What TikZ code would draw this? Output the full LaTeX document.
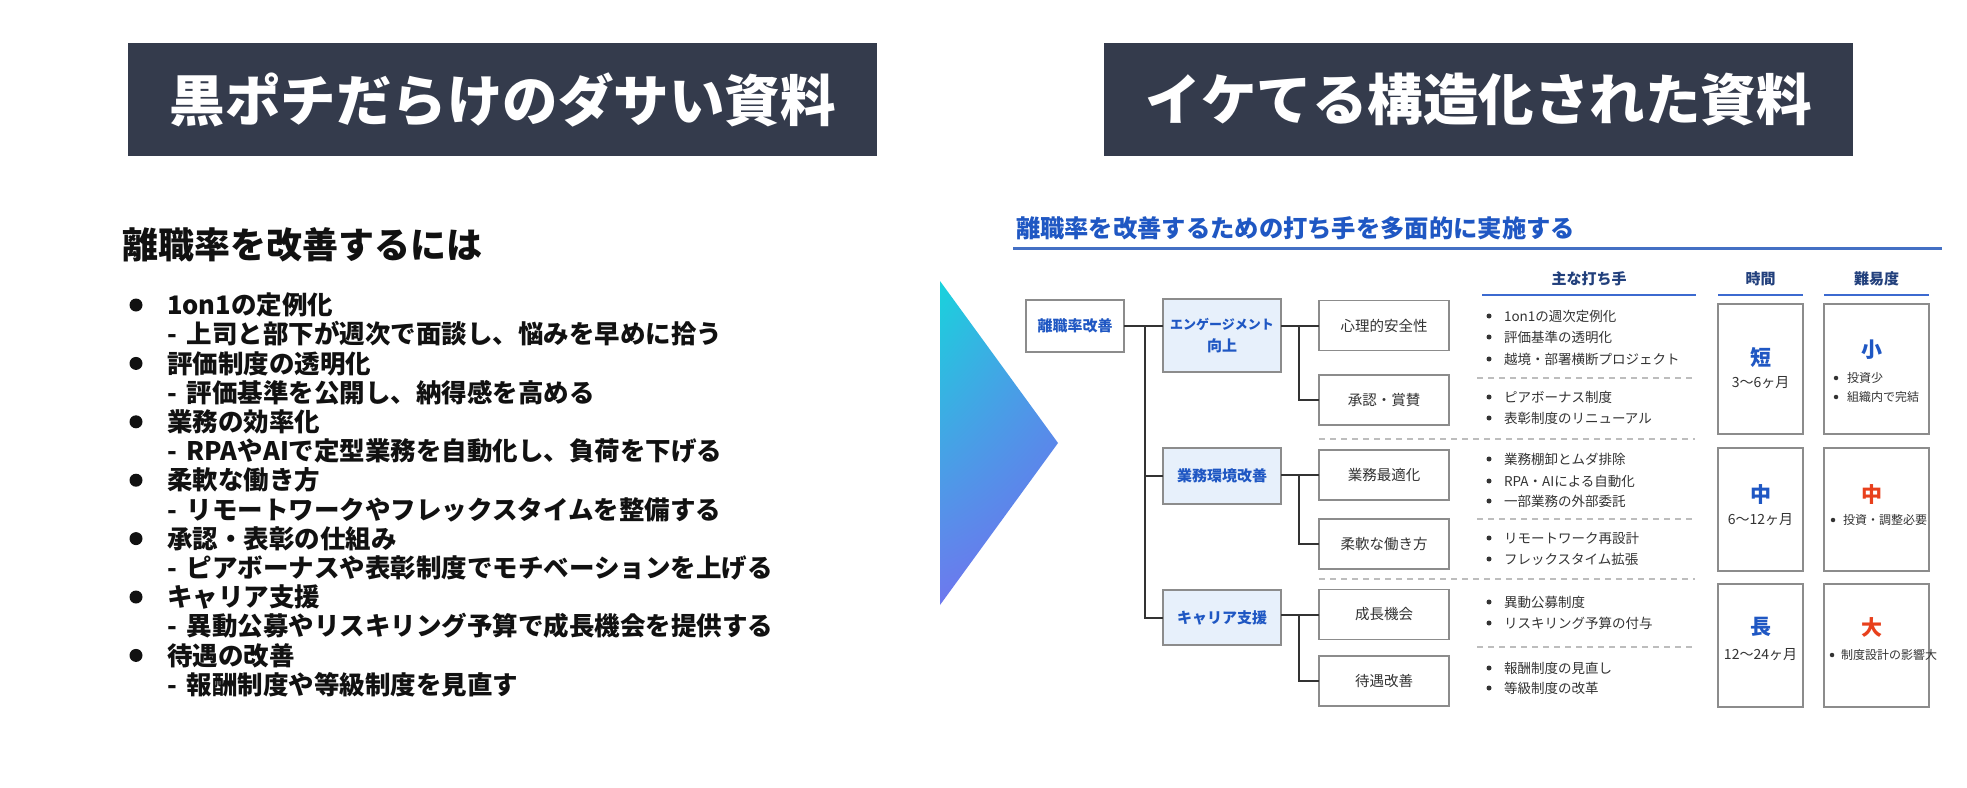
\documentclass[tikz,border=0pt]{standalone}
\usepackage{fontspec}
\newfontfamily\jp{Noto Sans CJK JP}
\usetikzlibrary{calc,shadings}
\definecolor{hdr}{HTML}{343B4C}
\definecolor{ink}{HTML}{111111}
\definecolor{tblue}{HTML}{1F57C3}
\definecolor{lblue}{HTML}{4470C4}
\definecolor{hblue}{HTML}{3C6AD0}
\definecolor{hnavy}{HTML}{22407C}
\definecolor{catfill}{HTML}{E7F0FB}
\definecolor{bord}{HTML}{8C8C8C}
\definecolor{dgray}{HTML}{333333}
\definecolor{dash}{HTML}{BDBDBD}
\definecolor{kred}{HTML}{E8401C}
\definecolor{cyanA}{HTML}{18D3DC}
\definecolor{cyanB}{HTML}{44A6E6}
\definecolor{purA}{HTML}{6E78EE}
\definecolor{purB}{HTML}{7268EE}
\begin{document}
\begin{tikzpicture}[x=1pt,y=-1pt,
  every node/.style={inner sep=0pt,outer sep=0pt},
  hbox/.style={fill=hdr,minimum width=749pt,minimum height=113pt,text=white,
    font=\jp\bfseries\fontsize{55.5}{55.5}\selectfont},
  ltitle/.style={anchor=base west,text=ink,font=\jp\bfseries\fontsize{36}{36}\selectfont},
  litem/.style={anchor=base west,text=ink,font=\jp\bfseries\fontsize{25.5}{25.5}\selectfont},
  lbul/.style={circle,fill=ink,minimum size=13pt},
  rtitle/.style={anchor=base west,text=tblue,font=\jp\bfseries\fontsize{24.3}{24.3}\selectfont},
  colhead/.style={text=hnavy,font=\jp\bfseries\fontsize{15}{15}\selectfont},
  hline/.style={draw=hblue,line width=2.5pt},
  rootbox/.style={draw=bord,line width=1.5pt,fill=white,minimum width=98pt,minimum height=52pt,
    text=tblue,font=\jp\bfseries\fontsize{15}{15}\selectfont},
  catbox/.style={draw=bord,line width=1.5pt,fill=catfill,minimum width=118pt,
    text=tblue,align=center,font=\jp\bfseries\fontsize{15}{22}\selectfont},
  leafbox/.style={draw=bord,line width=1.5pt,fill=white,minimum width=130pt,minimum height=50pt,
    text=dgray,font=\jp\fontsize{14.5}{14.5}\selectfont},
  conn/.style={draw=dgray,line width=2pt},
  dsep/.style={draw=dash,line width=1.5pt,dash pattern=on 6pt off 5pt},
  ritem/.style={anchor=base west,text=dgray,font=\jp\fontsize{13.5}{13.5}\selectfont},
  rbul/.style={circle,fill=dgray,minimum size=5pt},
  cbox/.style={draw=bord,line width=1.5pt,fill=white},
  big/.style={font=\jp\bfseries\fontsize{21}{21}\selectfont},
  period/.style={text=dgray,font=\jp\fontsize{14}{14}\selectfont},
  ditem/.style={anchor=base west,text=dgray,font=\jp\fontsize{12}{12}\selectfont},
  dbul/.style={circle,fill=dgray,minimum size=4.5pt}
]
\useasboundingbox (0,0) rectangle (1967,787);
\fill[white] (0,0) rectangle (1967,787);

% ---------- headers ----------
\node[hbox] (hl) at (502.5,99.5) {黒ポチだらけのダサい資料};
\node[hbox] (hr) at (1478.5,99.5) {イケてる構造化された資料};

% ---------- left list ----------
\node[ltitle] (lt) at (122,258.7) {離職率を改善するには};
\foreach \k/\a/\b in {0/{1on1の定例化}/{上司と部下が週次で面談し、悩みを早めに拾う},
  1/{評価制度の透明化}/{評価基準を公開し、納得感を高める},
  2/{業務の効率化}/{RPAやAIで定型業務を自動化し、負荷を下げる},
  3/{柔軟な働き方}/{リモートワークやフレックスタイムを整備する},
  4/{承認・表彰の仕組み}/{ピアボーナスや表彰制度でモチベーションを上げる},
  5/{キャリア支援}/{異動公募やリスキリング予算で成長機会を提供する},
  6/{待遇の改善}/{報酬制度や等級制度を見直す}}{
  \pgfmathsetmacro\yc{305+58.4*\k}
  \pgfmathsetmacro\yd{\yc+29.2}
  \node[lbul] (lb\k) at (136,\yc) {};
  \node[litem] (li\k) at (167,\yc+9.7) {\a};
  \node[litem] (ld\k) at (167,\yd+9.7) {-\hspace{10pt}\b};
}

% ---------- arrow ----------
\shade[upper left=cyanA,lower left=purA,upper right=cyanB,lower right=purB]
  (940,281) -- (1058,443) -- (940,605) -- cycle;

% ---------- right title ----------
\node[rtitle] (rt) at (1016,237) {離職率を改善するための打ち手を多面的に実施する};
\draw[draw=lblue,line width=3pt] (1013,248) -- (1942,248);

% column headers
\node[colhead] (ch1) at (1589,279) {主な打ち手};
\node[colhead] (ch2) at (1760.5,279) {時間};
\node[colhead] (ch3) at (1876.5,279) {難易度};
\draw[hline] (1482,295) -- (1696,295);
\draw[hline] (1718,295) -- (1803,295);
\draw[hline] (1824,295) -- (1929,295);

% ---------- tree ----------
\node[rootbox] (root) at (1075,326) {離職率改善};
\node[catbox,minimum height=73pt] (c1) at (1222,335.5) {{\fontsize{13}{22}\selectfont エンゲージメント}\\向上};
\node[catbox,minimum height=56pt] (c2) at (1222,476) {業務環境改善};
\node[catbox,minimum height=55pt] (c3) at (1222,617.5) {キャリア支援};
\node[leafbox] (l1) at (1384,325.5) {心理的安全性};
\node[leafbox] (l2) at (1384,400) {承認・賞賛};
\node[leafbox] (l3) at (1384,475) {業務最適化};
\node[leafbox] (l4) at (1384,544) {柔軟な働き方};
\node[leafbox] (l5) at (1384,614.5) {成長機会};
\node[leafbox] (l6) at (1384,681) {待遇改善};
\coordinate (tk) at (1145,0);
\coordinate (jn) at (1299,0);
\draw[conn] (root.east) -- (root.east -| c1.west);
\draw[conn] (root.east -| tk) |- (c3.west);
\draw[conn] (c2.west -| tk) -- (c2.west);
\draw[conn] (c1.east |- l1.west) -- (l1.west);
\draw[conn] (l1.west -| jn) |- (l2.west);
\draw[conn] (c2.east |- l3.west) -- (l3.west);
\draw[conn] (l3.west -| jn) |- (l4.west);
\draw[conn] (c3.east |- l5.west) -- (l5.west);
\draw[conn] (l5.west -| jn) |- (l6.west);

% ---------- separators ----------
\draw[dsep] (1319,439) -- (1695,439);
\draw[dsep] (1319,579) -- (1695,579);
\draw[dsep] (1477,378) -- (1695,378);
\draw[dsep] (1477,519) -- (1695,519);
\draw[dsep] (1477,647) -- (1695,647);

% ---------- measures ----------
\foreach \n/\y/\t in {1/316/{1on1の週次定例化},2/337/{評価基準の透明化},3/359/{越境・部署横断プロジェクト},
  4/397/{ピアボーナス制度},5/418/{表彰制度のリニューアル},
  6/459/{業務棚卸とムダ排除},7/481/{RPA・AIによる自動化},8/501/{一部業務の外部委託},
  9/538/{リモートワーク再設計},10/559/{フレックスタイム拡張},
  11/602/{異動公募制度},12/623/{リスキリング予算の付与},
  13/668/{報酬制度の見直し},14/688/{等級制度の改革}}{
  \node[rbul] (rb\n) at (1489,\y) {};
  \node[ritem] (ri\n) at (1504,\y+5.1) {\t};
}

% ---------- time column ----------
\node[cbox,minimum width=85pt,minimum height=130pt] (t1) at (1760.5,369) {};
\node[cbox,minimum width=85pt,minimum height=123pt] (t2) at (1760.5,509.5) {};
\node[cbox,minimum width=85pt,minimum height=123pt] (t3) at (1760.5,645.5) {};
\node[big,text=tblue] (tk1) at (1760.5,358) {短};
\node[period] (tp1) at (1760.5,383) {3〜6ヶ月};
\node[big,text=tblue] (tk2) at (1760.5,495) {中};
\node[period] (tp2) at (1760.5,520) {6〜12ヶ月};
\node[big,text=tblue] (tk3) at (1760.5,627) {長};
\node[period] (tp3) at (1760.5,655) {12〜24ヶ月};

% ---------- difficulty column ----------
\node[cbox,minimum width=105pt,minimum height=130pt] (d1) at (1876.5,369) {};
\node[cbox,minimum width=105pt,minimum height=123pt] (d2) at (1876.5,509.5) {};
\node[cbox,minimum width=105pt,minimum height=123pt] (d3) at (1876.5,645.5) {};
\node[big,text=tblue] (dk1) at (1872,350) {小};
\node[dbul] (db1) at (1836,378) {};
\node[ditem] (di1) at (1847,382.6) {投資少};
\node[dbul] (db2) at (1836,397) {};
\node[ditem] (di2) at (1847,401.6) {組織内で完結};
\node[big,text=kred] (dk2) at (1872,495) {中};
\node[dbul] (db3) at (1833,520) {};
\node[ditem] (di3) at (1843,524.6) {投資・調整必要};
\node[big,text=kred] (dk3) at (1872,627) {大};
\node[dbul] (db4) at (1832,655) {};
\node[ditem] (di4) at (1841,659.6) {制度設計の影響大};
\end{tikzpicture}
\end{document}
